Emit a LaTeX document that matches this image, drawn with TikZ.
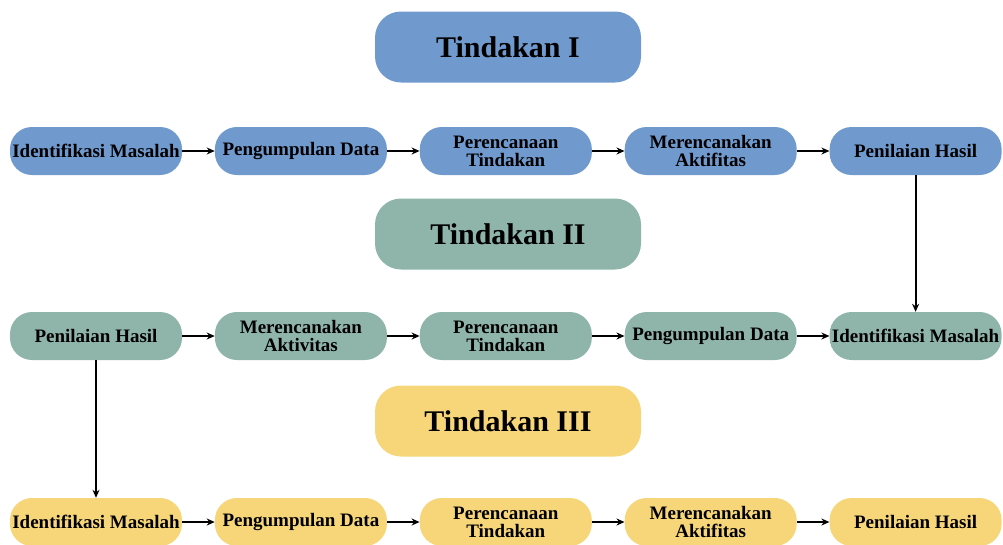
\documentclass[tikz,border=0pt]{standalone}
\usepackage{fontspec}
\setmainfont{Liberation Serif}
\usepackage{tikz}
\usetikzlibrary{arrows.meta, positioning}
\definecolor{tindblue}{HTML}{7099CE}
\definecolor{tindgreen}{HTML}{8FB5AB}
\definecolor{tindyellow}{HTML}{F6D679}

\begin{document}
\begin{tikzpicture}[
  x=1pt, y=-1pt,
  font=\bfseries\fontsize{19}{18}\selectfont,
  box/.style={rounded corners=22pt, align=center, inner sep=0pt,
    minimum width=172pt, minimum height=48pt},
  title/.style={rounded corners=26pt, inner sep=0pt,
    minimum width=266pt, minimum height=71pt, font=\bfseries\fontsize{30}{34}\selectfont},
  arrow/.style={-{Stealth[length=8pt, width=7pt]}, line width=2pt},
  node distance=32.5pt
]
\path[use as bounding box, clip] (0,0) rectangle (1003,544);

% Tindakan I
\node[title, fill=tindblue] (titleA) at (508,47) {Tindakan I};
\node[box, fill=tindblue] (identA) at (96,151) {Identifikasi Masalah};
\node[box, fill=tindblue, right=of identA] (kumpulA) {Pengumpulan Data};
\node[box, fill=tindblue, right=of kumpulA] (rencanaA) {Perencanaan\\Tindakan};
\node[box, fill=tindblue, right=of rencanaA] (aktifA) {Merencanakan\\Aktifitas};
\node[box, fill=tindblue, right=of aktifA] (nilaiA) {Penilaian Hasil};

\draw[arrow] (identA) -- (kumpulA);
\draw[arrow] (kumpulA) -- (rencanaA);
\draw[arrow] (rencanaA) -- (aktifA);
\draw[arrow] (aktifA) -- (nilaiA);

% Tindakan II
\node[title, fill=tindgreen] (titleB) at (508,234) {Tindakan II};
\node[box, fill=tindgreen] (nilaiB) at (96,336) {Penilaian Hasil};
\node[box, fill=tindgreen, right=of nilaiB] (aktifB) {Merencanakan\\Aktivitas};
\node[box, fill=tindgreen, right=of aktifB] (rencanaB) {Perencanaan\\Tindakan};
\node[box, fill=tindgreen, right=of rencanaB] (kumpulB) {Pengumpulan Data};
\node[box, fill=tindgreen, right=of kumpulB] (identB) {Identifikasi Masalah};

\draw[arrow] (nilaiB) -- (aktifB);
\draw[arrow] (aktifB) -- (rencanaB);
\draw[arrow] (rencanaB) -- (kumpulB);
\draw[arrow] (kumpulB) -- (identB);
\draw[arrow] (nilaiA) -- (identB);

% Tindakan III
\node[title, fill=tindyellow] (titleC) at (508,421) {Tindakan III};
\node[box, fill=tindyellow] (identC) at (96,522) {Identifikasi Masalah};
\node[box, fill=tindyellow, right=of identC] (kumpulC) {Pengumpulan Data};
\node[box, fill=tindyellow, right=of kumpulC] (rencanaC) {Perencanaan\\Tindakan};
\node[box, fill=tindyellow, right=of rencanaC] (aktifC) {Merencanakan\\Aktifitas};
\node[box, fill=tindyellow, right=of aktifC] (nilaiC) {Penilaian Hasil};

\draw[arrow] (identC) -- (kumpulC);
\draw[arrow] (kumpulC) -- (rencanaC);
\draw[arrow] (rencanaC) -- (aktifC);
\draw[arrow] (aktifC) -- (nilaiC);
\draw[arrow] (nilaiB) -- (identC);

\end{tikzpicture}
\end{document}
